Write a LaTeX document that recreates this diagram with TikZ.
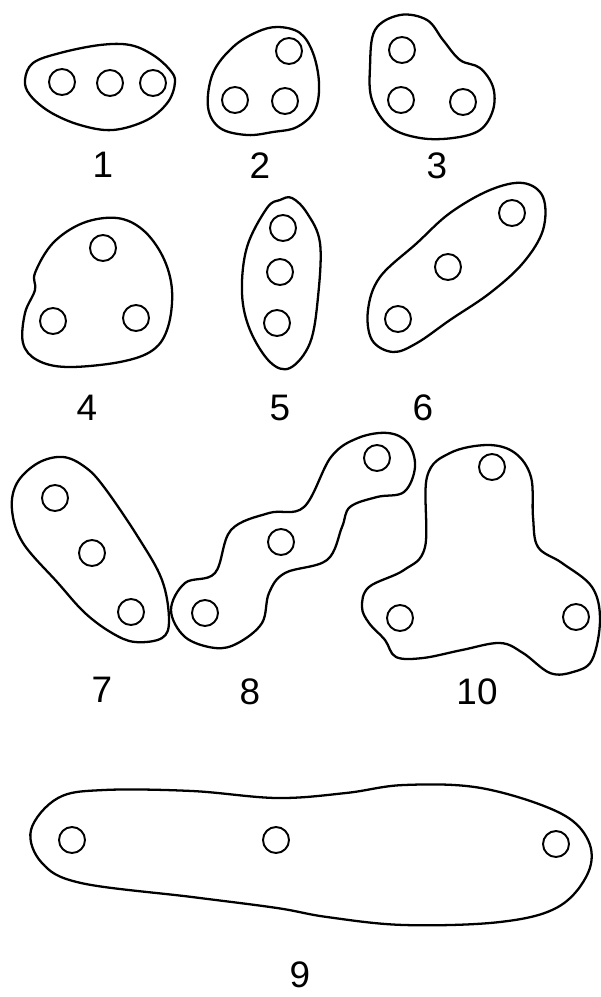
\documentclass[tikz,border=0pt]{standalone}
\usepackage{fontspec}
\setmainfont{Liberation Sans}
\usetikzlibrary{positioning}

\begin{document}
\begin{tikzpicture}[
    x=0.02cm, y=-0.02cm,
    blob/.style={draw, line width=1.3pt, smooth cycle, tension=0.6},
    hole/.style={draw, line width=1.1pt},
    num/.style={font=\fontsize{21}{24}\selectfont, inner sep=0pt}
]
\useasboundingbox (0,0) rectangle (601,997);

% outlines
\draw[blob] plot coordinates {(25,80) (33,63) (60,53) (100,45) (130,45) (153,55) (170,70) (175,82) (168,102) (147,120) (113,130) (80,125) (50,112) (30,95)};
\draw[blob] plot coordinates {(278,27) (300,33) (313,53) (319,83) (315,110) (297,127) (273,132) (247,135) (220,128) (208,107) (213,73) (233,47) (257,32)};
\draw[blob] plot coordinates {(400,15) (427,20) (443,40) (460,60) (480,68) (493,87) (493,110) (480,130) (453,138) (420,138) (390,127) (372,100) (370,67) (375,30)};
\draw[blob] plot coordinates {(117,218) (143,230) (163,257) (172,290) (168,327) (153,350) (120,362) (67,367) (37,360) (23,343) (25,313) (35,290) (35,273) (53,243) (83,223)};
\draw[blob] plot coordinates {(292,198) (307,213) (320,243) (318,297) (310,343) (290,368) (270,362) (250,330) (242,293) (247,247) (267,208) (280,200)};
\draw[blob] plot coordinates {(523,183) (543,197) (543,230) (523,263) (490,293) (450,320) (417,343) (393,352) (372,340) (368,310) (380,277) (417,243) (450,213) (490,190)};
\draw[blob] plot coordinates {(63,457) (85,467) (104,487) (138,537) (162,580) (169,620) (162,638) (135,642) (112,633) (85,613) (58,583) (23,543) (12,510) (17,483) (38,463)};
\draw[blob] plot coordinates {(171,610) (185,583) (215,573) (231,530) (269,513) (304,507) (331,457) (358,438) (388,433) (408,443) (415,467) (404,492) (377,497) (350,507) (342,527) (327,560) (285,573) (269,593) (262,623) (238,643) (215,648) (185,637)};
\draw[blob] plot coordinates {(488,445) (515,453) (531,477) (533,517) (538,547) (562,563) (592,587) (600,620) (592,660) (573,672) (550,673) (523,653) (500,643) (462,650) (423,658) (396,657) (385,640) (369,623) (362,607) (369,587) (404,570) (425,547) (427,477) (450,453)};
\draw[blob] plot coordinates {(31,830) (58,798) (104,790) (192,791) (277,798) (346,793) (404,785) (481,788) (558,812) (588,840) (588,873) (558,907) (500,922) (404,925) (327,917) (277,908) (192,897) (81,883) (42,863)};

% small circles
\foreach \p in {(62,82), (110,83), (153,83),
                (289,51), (235,100), (285,101),
                (402,50), (401,100), (463,102),
                (103,248), (53,321), (136,318),
                (283,228), (280,272), (277,323),
                (512,213), (448,267), (398,319),
                (55,498), (92,553), (131,612),
                (377,458), (281,542), (205,613),
                (492,467), (400,618), (576,617),
                (72,840), (276,840), (556,844)}
    \draw[hole] \p circle[radius=0.26cm];

% labels
\node[num] (l1) at (103,165) {1};
\node[num] (l2) at (260,166) {2};
\node[num] (l3) at (437,166) {3};
\node[num] (l4) at (87,408) {4};
\node[num] (l5) at (280,408) {5};
\node[num] (l6) at (423,408) {6};
\node[num] (l7) at (102,690) {7};
\node[num] (l8) at (250,692) {8};
\node[num] (l10) at (477,692) {10};
\node[num] (l9) at (300,975) {9};

\end{tikzpicture}
\end{document}
